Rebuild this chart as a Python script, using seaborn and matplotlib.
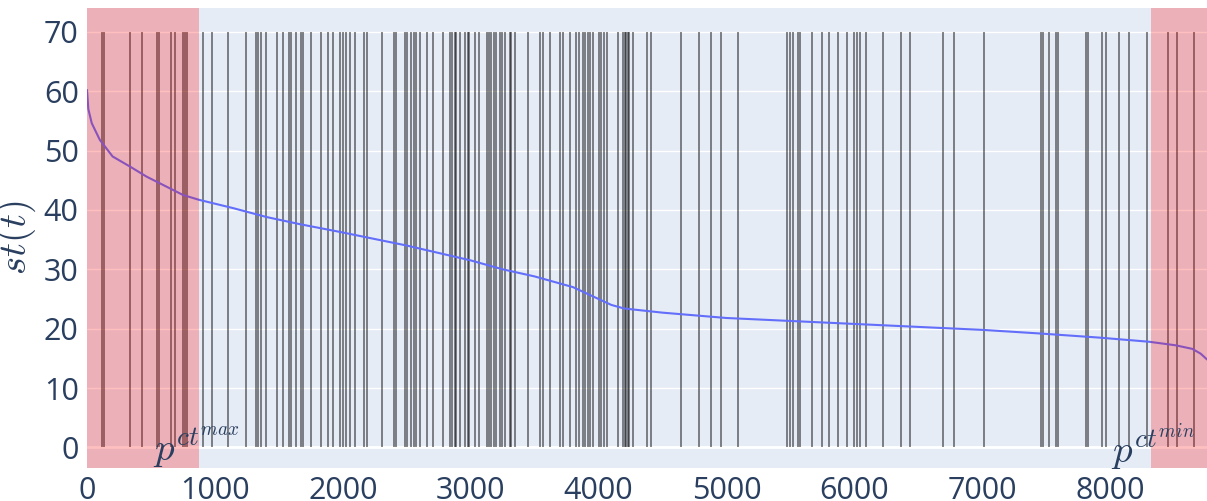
import matplotlib
matplotlib.use("Agg")
import matplotlib.pyplot as plt
import seaborn as sns
import pandas as pd

# sorted st(t) curve
curve_t = [0, 10, 37, 100, 200, 336, 466, 623, 752, 876, 1143, 1404, 1664, 2000,
           2500, 3000, 3250, 3500, 3800, 4000, 4100, 4200, 4500, 5000, 5500, 6000,
           6500, 7000, 7445, 7914, 8305, 8513, 8643, 8708, 8759]
curve_st = [60.2, 57.0, 54.6, 51.8, 49.0, 47.3, 45.6, 43.9, 42.5, 41.7, 40.3, 38.8,
            37.6, 36.2, 34.0, 31.5, 30.0, 28.8, 27.0, 25.0, 24.0, 23.4, 22.7, 21.8,
            21.3, 20.8, 20.3, 19.8, 19.2, 18.5, 17.8, 17.2, 16.6, 15.8, 14.8]

# positions of the marked hours (vertical lines)
marks = [120, 135, 338, 432, 545, 563, 656, 688, 752, 766, 779, 909, 974, 1099, 1245,
         1323, 1338, 1359, 1401, 1487, 1529, 1580, 1594, 1633, 1677, 1690, 1755, 1826,
         1888, 1924, 1982, 2003, 2023, 2060, 2094, 2164, 2190, 2305, 2398, 2419, 2490,
         2502, 2537, 2555, 2576, 2607, 2659, 2705, 2784, 2836, 2852, 2875, 2888, 2914,
         2959, 2979, 2984, 3037, 3063, 3130, 3143, 3162, 3182, 3201, 3227, 3245, 3266,
         3305, 3318, 3344, 3448, 3539, 3565, 3617, 3695, 3721, 3773, 3826, 3844, 3877,
         3896, 3916, 3930, 3955, 4000, 4021, 4041, 4068, 4151, 4190, 4203, 4216, 4229,
         4242, 4268, 4377, 4412, 4646, 4789, 4880, 4958, 5094, 5474, 5498, 5523, 5560,
         5573, 5672, 5747, 5800, 5870, 5943, 5995, 6018, 6047, 6094, 6227, 6365, 6435,
         6690, 6781, 7018, 7459, 7477, 7523, 7576, 7596, 7810, 7826, 7935, 7971, 8070,
         8148, 8291, 8455, 8521, 8656]

p_max = 876
p_min = 8322
t_end = 8759

df = pd.DataFrame({"t": curve_t, "st": curve_st})

sns.set_theme(style="darkgrid", rc={
    "axes.facecolor": "#E5ECF6",
    "grid.color": "white",
    "grid.linewidth": 1.0,
    "mathtext.fontset": "cm",
})
plt.rcParams['font.family'] = ['Open Sans', 'DejaVu Sans']

fig = plt.figure(figsize=(12.07, 5.01), dpi=100)
ax = fig.add_axes([0.0721, 0.066, 0.928, 0.918])

ax.vlines(marks, 0, 70, colors="black", linewidth=1.2, alpha=0.55, zorder=2)
sns.lineplot(data=df, x="t", y="st", color="#636EFA", linewidth=1.5, ax=ax, zorder=3)
ax.axhline(0, color="white", linewidth=2, zorder=1)

ax.axvspan(0, p_max, color="red", alpha=0.25, linewidth=0, zorder=4)
ax.axvspan(p_min, t_end, color="red", alpha=0.25, linewidth=0, zorder=4)

txt = "#2a3f5f"
ax.text(p_max - 20, 0, r"$p^{ct^{max}}$", ha="center", va="center", fontsize=28, color=txt, zorder=5)
ax.text(p_min + 10, 0, r"$p^{ct^{min}}$", ha="center", va="center", fontsize=28, color=txt, zorder=5)

ax.set_xlim(0, t_end)
ax.set_ylim(-3.45, 74.0)
ax.set_xticks(range(0, 9000, 1000))
ax.set_yticks(range(0, 80, 10))
ax.xaxis.grid(False)
ax.tick_params(axis="both", length=0, labelsize=22, labelcolor=txt, pad=6)
ax.set_xlabel("")
ax.set_ylabel(r"$st(t)$", fontsize=28, color=txt, labelpad=4)
for s in ax.spines.values():
    s.set_visible(False)

fig.savefig("out.png", dpi=100)
